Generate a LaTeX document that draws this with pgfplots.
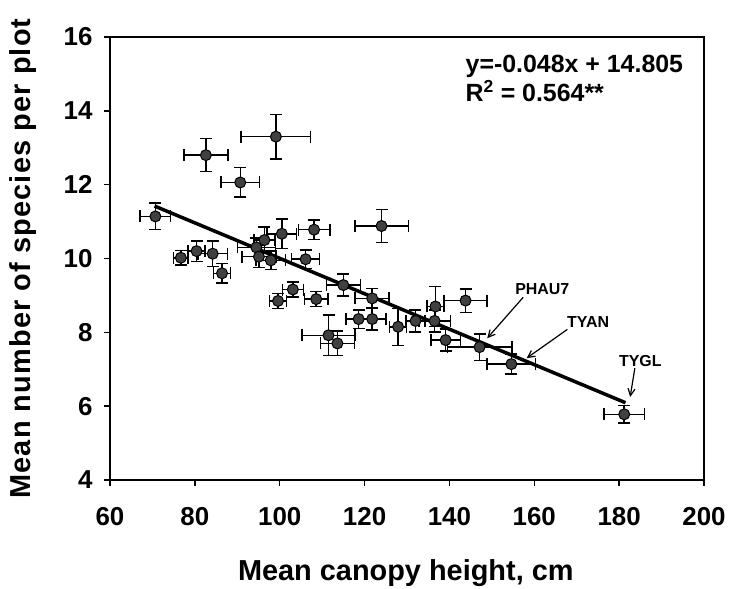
\documentclass[border=0pt]{standalone}
\usepackage{fontspec}
\setmainfont{Liberation Sans}
\newfontfamily\widefont[LetterSpace=4]{Liberation Sans}
\usepackage{pgfplots}
\usepackage{pgfplotstable}
\pgfplotsset{compat=1.18}
\usetikzlibrary{arrows.meta}

% mean canopy height (cm), mean species per plot, +- errors
\pgfplotstableread{
x y ex ey
70.7 11.14 3.6 0.36
76.7 10.02 1.7 0.20
80.4 10.20 2.0 0.28
84.2 10.13 3.5 0.35
86.4 9.60 2.0 0.26
82.6 12.80 5.2 0.45
90.7 12.06 4.5 0.40
99.1 13.30 8.2 0.60
94.5 10.30 4.5 0.25
95.1 10.05 4.0 0.30
97.9 9.95 3.5 0.25
96.4 10.50 2.5 0.35
100.5 10.67 3.5 0.40
108.1 10.78 3.7 0.26
124.0 10.88 6.3 0.45
106.1 9.98 3.3 0.25
103.1 9.16 2.5 0.20
99.6 8.85 2.0 0.20
108.6 8.90 2.8 0.20
115.0 9.28 4.0 0.30
121.8 8.92 4.0 0.27
118.6 8.36 3.0 0.25
121.8 8.36 3.2 0.30
127.9 8.15 2.0 0.50
132.0 8.31 2.2 0.30
136.7 8.70 2.0 0.54
136.5 8.31 3.7 0.30
143.8 8.86 5.1 0.32
139.1 7.79 3.5 0.30
147.1 7.60 7.6 0.36
154.6 7.14 5.7 0.27
111.5 7.92 6.3 0.55
113.6 7.70 4.0 0.33
181.2 5.78 4.8 0.24
}\canopy

\begin{document}
\begin{tikzpicture}
\useasboundingbox (0,0) rectangle (730bp,589bp);
\begin{axis}[
  at={(110bp,109bp)}, anchor=south west,
  scale only axis, width=594bp, height=443bp,
  xmin=60, xmax=200, ymin=4, ymax=16,
  xtick={60,80,...,200}, ytick={4,6,...,16},
  xtick pos=bottom, ytick pos=left,
  tick align=outside, major tick length=6bp,
  axis line style={line width=2bp},
  every tick/.style={black, line width=1.5bp},
  tick label style={font=\fontsize{26}{26}\selectfont\bfseries},
  /pgf/number format/assume math mode=true,
  xticklabel style={yshift=-18bp},
  yticklabel style={xshift=-8bp},
  xlabel={Mean canopy height, cm},
  ylabel={\widefont Mean number of species per plot},
  label style={font=\fontsize{29}{29}\selectfont\bfseries},
  xlabel style={at={(axis description cs:0.498,-0.21)}, anchor=center},
  ylabel style={at={(axis description cs:-0.147,0.5)}, anchor=center, rotate=0},
  clip=false,
]
\addplot[only marks, mark=*, mark size=5.5bp,
  mark options={fill=black!75, draw=black, line width=1bp},
  error bars/.cd, x dir=both, x explicit, y dir=both, y explicit,
  error bar style={line width=1.5bp, black},
  error mark options={rotate=90, mark size=6bp, line width=1.5bp, black}]
  table[x=x, y=y, x error=ex, y error=ey] {\canopy};
\addplot[black, line width=3.5bp] coordinates {(70.5,11.421) (181.5,6.093)};

\node[anchor=west, font=\fontsize{25}{25}\selectfont\bfseries] at (axis cs:143.0,15.21) {y=-0.048x + 14.805};
\node[anchor=west, font=\fontsize{25}{25}\selectfont\bfseries] at (axis cs:143.0,14.54) {R$^{\mathbf 2}$ = 0.564**};

\node[font=\fontsize{16}{16}\selectfont\bfseries] at (axis cs:161.9,9.17) {PHAU7};
\node[font=\fontsize{16}{16}\selectfont\bfseries] at (axis cs:172.7,8.28) {TYAN};
\node[font=\fontsize{16}{16}\selectfont\bfseries] at (axis cs:185.0,7.22) {TYGL};
\draw[-{Straight Barb[length=7bp,width=7bp]}, line width=1.2bp] (axis cs:157.4,8.95) -- (axis cs:148.9,7.84);
\draw[-{Straight Barb[length=7bp,width=7bp]}, line width=1.2bp] (axis cs:167.8,8.08) -- (axis cs:158.2,7.30);
\draw[-{Straight Barb[length=7bp,width=7bp]}, line width=1.2bp] (axis cs:183.7,7.03) -- (axis cs:182.6,6.25);
\end{axis}
\end{tikzpicture}
\end{document}
